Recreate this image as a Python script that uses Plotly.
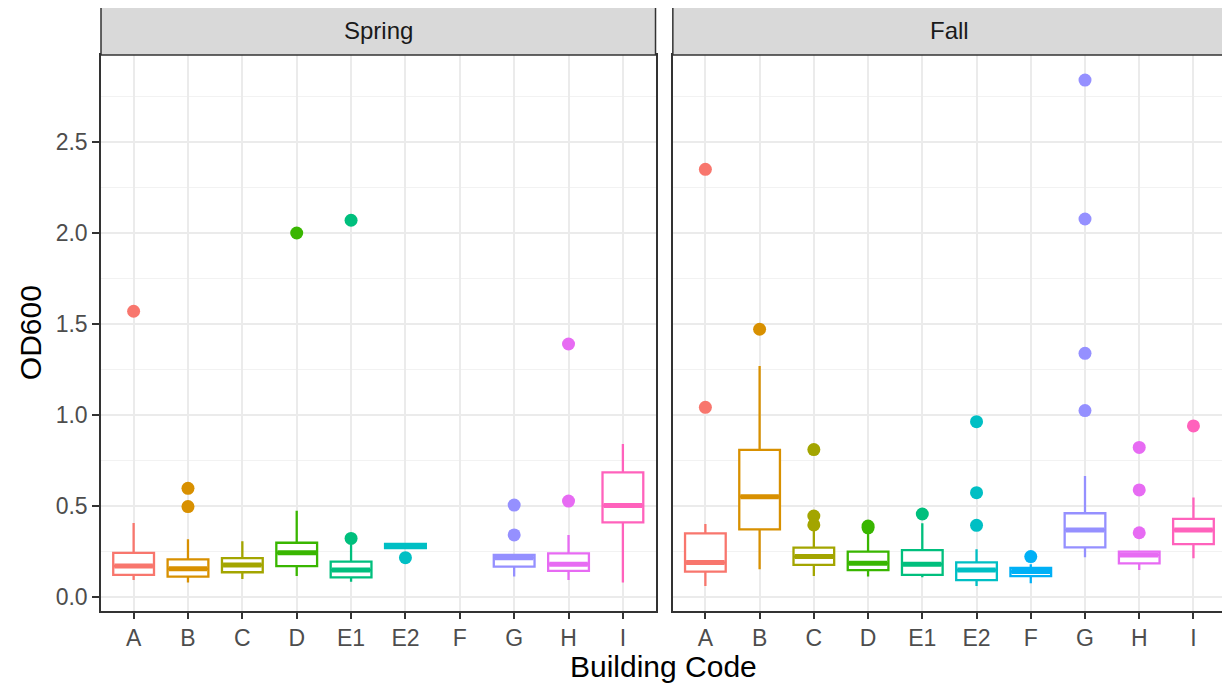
import plotly.graph_objects as go
from plotly.subplots import make_subplots

# ---------------- data ----------------
categories = ["A", "B", "C", "D", "E1", "E2", "F", "G", "H", "I"]
colors = ["#F8766D", "#D89000", "#A3A500", "#39B600", "#00BF7D",
          "#00BFC4", "#00B0F6", "#9590FF", "#E76BF3", "#FF62BC"]
seasons = ["Spring", "Fall"]

spring_q1 = [0.121, 0.112, 0.136, 0.170, 0.108, 0.268, None, 0.167, 0.143, 0.410]
spring_med = [0.170, 0.155, 0.176, 0.243, 0.148, 0.280, None, 0.216, 0.180, 0.502]
spring_q3 = [0.242, 0.207, 0.214, 0.298, 0.194, 0.292, None, 0.231, 0.240, 0.685]
spring_lo = [0.093, 0.079, 0.099, 0.115, 0.084, 0.268, None, 0.112, 0.093, 0.079]
spring_hi = [0.407, 0.317, 0.306, 0.474, 0.290, 0.292, None, 0.231, 0.341, 0.840]
spring_out = [[1.57], [0.597, 0.497], [], [2.00], [2.07, 0.322], [0.216], [],
              [0.505, 0.341], [1.39, 0.527], []]

fall_q1 = [0.139, 0.372, 0.176, 0.148, 0.121, 0.093, 0.115, 0.273, 0.185, 0.290]
fall_med = [0.189, 0.551, 0.222, 0.185, 0.180, 0.148, 0.140, 0.368, 0.231, 0.368]
fall_q3 = [0.350, 0.808, 0.271, 0.249, 0.258, 0.190, 0.160, 0.460, 0.249, 0.429]
fall_lo = [0.060, 0.152, 0.115, 0.112, 0.108, 0.060, 0.075, 0.218, 0.148, 0.213]
fall_hi = [0.401, 1.269, 0.370, 0.350, 0.405, 0.262, 0.180, 0.665, 0.249, 0.546]
fall_out = [[2.35, 1.042], [1.471], [0.81, 0.445, 0.396], [0.39, 0.38], [0.456],
            [0.963, 0.573, 0.394], [0.222], [2.84, 2.077, 1.339, 1.024],
            [0.822, 0.588, 0.353], [0.94]]

y_tick_vals = [0.0, 0.5, 1.0, 1.5, 2.0, 2.5]
y_tick_text = ["0.0", "0.5", "1.0", "1.5", "2.0", "2.5"]
y_minor_vals = [0.25, 0.75, 1.25, 1.75, 2.25, 2.75]

# ---------------- styles ----------------
FONT = "Liberation Sans, Arial, sans-serif"
BOX_W = 0.75
GRID = "#EBEBEB"
BORDER = "#333333"

facet_data = [
    (spring_q1, spring_med, spring_q3, spring_lo, spring_hi, spring_out),
    (fall_q1, fall_med, fall_q3, fall_lo, fall_hi, fall_out),
]

fig = make_subplots(rows=1, cols=2, shared_yaxes=True)

positions = list(range(1, len(categories) + 1))

for col, (q1s, meds, q3s, los, his, outs) in enumerate(facet_data, start=1):
    for i, cat in enumerate(categories):
        if q1s[i] is None:
            continue
        pos = positions[i]
        c = colors[i]
        fig.add_trace(go.Box(
            x=[pos], q1=[q1s[i]], median=[meds[i]], q3=[q3s[i]],
            lowerfence=[los[i]], upperfence=[his[i]],
            width=BOX_W, whiskerwidth=0, boxpoints=False,
            line=dict(color=c, width=2.3), fillcolor="white",
            showlegend=False, hoverinfo="skip"), row=1, col=col)
        # thick median
        fig.add_trace(go.Scatter(
            x=[pos - BOX_W / 2 + 0.02, pos + BOX_W / 2 - 0.02],
            y=[meds[i], meds[i]], mode="lines",
            line=dict(color=c, width=5), showlegend=False,
            hoverinfo="skip"), row=1, col=col)
        if outs[i]:
            fig.add_trace(go.Scatter(
                x=[pos] * len(outs[i]), y=outs[i], mode="markers",
                marker=dict(color=c, size=13, line=dict(width=0)),
                showlegend=False, hoverinfo="skip"), row=1, col=col)

ax_common = dict(
    range=[0.4, 10.6], tickmode="array", tickvals=positions, ticktext=categories,
    showgrid=True, gridcolor=GRID, gridwidth=1.5, zeroline=False,
    ticks="outside", ticklen=6, tickwidth=1.5, tickcolor=BORDER,
    showline=True, mirror=True, linecolor=BORDER, linewidth=1.5,
    tickfont=dict(family=FONT, size=23, color="#4D4D4D"),
)
fig.update_xaxes(**ax_common)
fig.update_layout(xaxis=dict(domain=[0.0, 0.4929]),
                  xaxis2=dict(domain=[0.5083, 1.0]))

y_common = dict(
    range=[-0.077, 2.978], tickmode="array", tickvals=y_tick_vals,
    ticktext=y_tick_text, showgrid=True, gridcolor=GRID, gridwidth=1.5,
    zeroline=False, showline=True, mirror=True, linecolor=BORDER, linewidth=1.5,
    minor=dict(tickmode="array", tickvals=y_minor_vals, showgrid=True,
               gridcolor="#F2F2F2", gridwidth=1, ticks=""),
    tickfont=dict(family=FONT, size=23, color="#4D4D4D"),
)
fig.update_yaxes(**y_common)
fig.update_layout(
    yaxis=dict(ticks="outside", ticklen=7, tickwidth=1.5, tickcolor=BORDER),
    yaxis2=dict(ticks="", showticklabels=False),
)

# facet strips
for k, (xr, yr) in enumerate([("x domain", "y domain"), ("x2 domain", "y2 domain")]):
    fig.add_shape(type="rect", xref=xr, yref=yr, x0=0, x1=1, y0=1.0, y1=1.0869,
                  fillcolor="#D9D9D9", line=dict(color=BORDER, width=1.5),
                  layer="above")
    fig.add_annotation(xref=xr, yref=yr, x=0.5, y=1.0435, text=seasons[k],
                       showarrow=False, yanchor="middle", xanchor="center",
                       font=dict(family=FONT, size=24, color="#1A1A1A"))

fig.add_annotation(xref="paper", yref="paper", x=0.5, y=-0.1007, yanchor="middle",
                   text="Building Code", showarrow=False,
                   font=dict(family=FONT, size=30, color="black"))
fig.add_annotation(xref="paper", yref="paper", x=-0.063, y=0.5, xanchor="center",
                   yanchor="middle", text="OD600", showarrow=False, textangle=-90,
                   font=dict(family=FONT, size=30, color="black"))

# page has an 8px body margin, so the figure is sized to fit the window
fig.update_layout(
    width=1222, height=682,
    margin=dict(l=93, r=2, t=47, b=79),
    plot_bgcolor="white", paper_bgcolor="white",
    boxmode="overlay", showlegend=False,
)

fig.write_html("out.html")
